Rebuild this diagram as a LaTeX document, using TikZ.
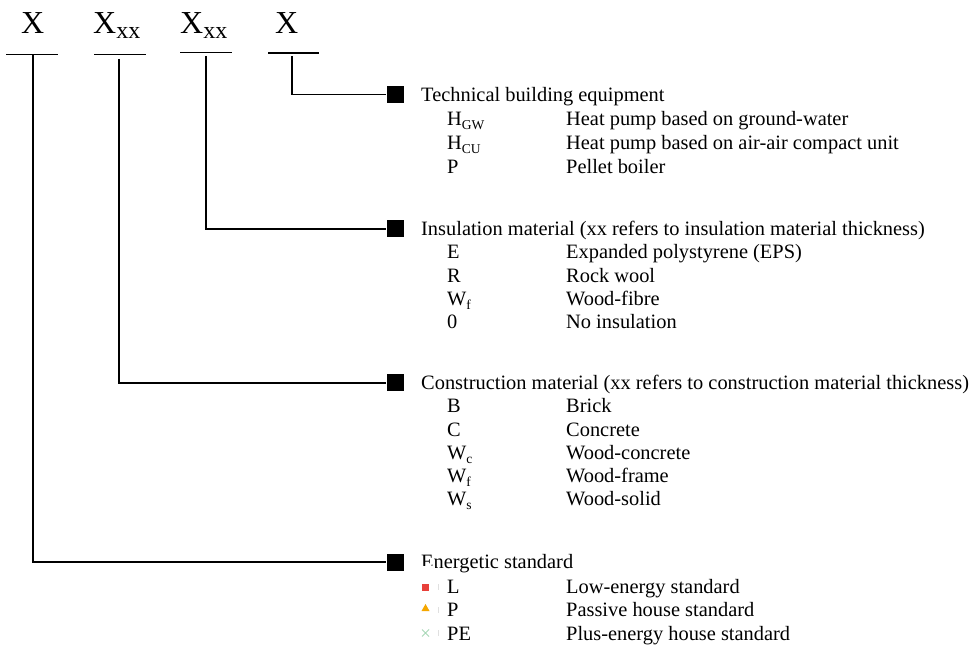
\documentclass[tikz,border=0pt]{standalone}
\usepackage{fontspec}
\setmainfont{Liberation Serif}
\definecolor{lowred}{HTML}{E8403A}
\definecolor{passorange}{HTML}{F5A700}
\definecolor{plusgreen}{HTML}{A8D8B8}
\newcommand{\bigsub}[1]{\raisebox{-5pt}{\fontsize{24}{24}\selectfont #1}}
\newcommand{\smallsub}[1]{\raisebox{-4pt}{\fontsize{13.5}{14}\selectfont #1}}
\begin{document}
\begin{tikzpicture}[x=1pt,y=-1pt,
  conn/.style={line width=1.3pt},
  bar/.style={line width=1.3pt},
  hbox/.style={fill=black,minimum size=17pt,inner sep=0pt},
  txt/.style={anchor=base west,inner sep=0pt,font=\fontsize{20.4}{24}\selectfont},
  big/.style={anchor=base west,inner sep=0pt,font=\fontsize{32}{32}\selectfont},
  mk/.style={inner sep=0pt}]
\useasboundingbox (0,0) rectangle (975,652);

% code letters
\node[big] (l1) at (21,34) {X};
\node[big] (l2) at (93,34) {X\bigsub{xx}};
\node[big] (l3) at (180,34) {X\bigsub{xx}};
\node[big] (l4) at (275,34) {X};

% underline bars
\draw[bar] (6,54.5) -- (58,54.5);
\draw[bar] (94,54.5) -- (146,54.5);
\draw[bar] (180,52.5) -- (232,52.5);
\draw[bar] (268,53) -- (319,53);

\coordinate (c1) at (33,54.5);
\coordinate (c2) at (119,59);
\coordinate (c3) at (206,56);
\coordinate (c4) at (292,56);

% heading squares
\node[hbox] (s4) at (395,94.5) {};
\node[hbox] (s3) at (395,229) {};
\node[hbox] (s2) at (395,383) {};
\node[hbox] (s1) at (395,562) {};

% connectors
\draw[conn] (c4) |- (s4.west);
\draw[conn] (c3) |- (s3.west);
\draw[conn] (c2) |- (s2.west);
\draw[conn] (c1) |- (s1.west);

% technical building equipment
\node[txt] (h4) at (421,101.5) {Technical building equipment};
\node[txt] (t1c) at (447,126) {H\smallsub{GW}};
\node[txt] (t1d) at (566,126) {Heat pump based on ground-water};
\node[txt] (t2c) at (447,150) {H\smallsub{CU}};
\node[txt] (t2d) at (566,150) {Heat pump based on air-air compact unit};
\node[txt] (t3c) at (447,174) {P};
\node[txt] (t3d) at (566,174) {Pellet boiler};

% insulation material
\node[txt] (h3) at (421,235.5) {Insulation material (xx refers to insulation material thickness)};
\node[txt] (i1c) at (447,259) {E};
\node[txt] (i1d) at (566,259) {Expanded polystyrene (EPS)};
\node[txt] (i2c) at (447,282.5) {R};
\node[txt] (i2d) at (566,282.5) {Rock wool};
\node[txt] (i3c) at (447,305.5) {W\smallsub{f}};
\node[txt] (i3d) at (566,305.5) {Wood-fibre};
\node[txt] (i4c) at (447,328.5) {0};
\node[txt] (i4d) at (566,328.5) {No insulation};

% construction material
\node[txt] (h2) at (421,389.5) {Construction material (xx refers to construction material thickness)};
\node[txt] (k1c) at (447,413) {B};
\node[txt] (k1d) at (566,413) {Brick};
\node[txt] (k2c) at (447,436) {C};
\node[txt] (k2d) at (566,436) {Concrete};
\node[txt] (k3c) at (447,459) {W\smallsub{c}};
\node[txt] (k3d) at (566,459) {Wood-concrete};
\node[txt] (k4c) at (447,482) {W\smallsub{f}};
\node[txt] (k4d) at (566,482) {Wood-frame};
\node[txt] (k5c) at (447,505) {W\smallsub{s}};
\node[txt] (k5d) at (566,505) {Wood-solid};

% energetic standard
\node[txt] (h1) at (421,568.5) {Energetic standard};
% white backing of the marker legend, overlapping the heading
\fill[white] (406,565.5) rectangle (435,650);
\draw[black!12,line width=0.6pt] (438.5,584) -- (438.5,590) (438.5,607) -- (438.5,613) (438.5,630) -- (438.5,636);
\node[mk,fill=lowred,minimum size=7pt] (m1) at (425.5,587) {};
\fill[passorange] (421.5,611) -- (429.5,611) -- (425.5,604) -- cycle;
\coordinate (m2) at (425.5,608);
\draw[plusgreen,line width=1pt] (422,629.5) -- (429,636.5) (422,636.5) -- (429,629.5);
\coordinate (m3) at (425.5,633);
\node[txt] (e1c) at (447,593) {L};
\node[txt] (e1d) at (566,593) {Low-energy standard};
\node[txt] (e2c) at (447,616.5) {P};
\node[txt] (e2d) at (566,616.5) {Passive house standard};
\node[txt] (e3c) at (447,640) {PE};
\node[txt] (e3d) at (566,640) {Plus-energy house standard};
\end{tikzpicture}
\end{document}
